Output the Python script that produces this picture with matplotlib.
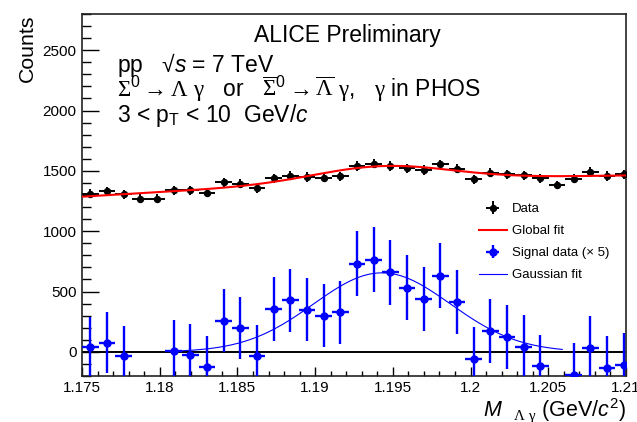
import numpy as np
import matplotlib
matplotlib.use("Agg")
import matplotlib.pyplot as plt
from matplotlib.ticker import FixedLocator, MultipleLocator, FixedFormatter

plt.rcParams['font.family'] = ['Liberation Sans', 'DejaVu Sans']
plt.rcParams['mathtext.fontset'] = 'custom'
plt.rcParams['mathtext.rm'] = 'Liberation Serif'
plt.rcParams['mathtext.it'] = 'Liberation Sans:italic'
plt.rcParams['mathtext.sf'] = 'Liberation Sans'

# ---------------- data ----------------
bin_start = 1.175
bin_width = 0.001072
n_bins = 33

data_counts = [1311, 1333, 1305, 1270, 1270, 1339, 1339, 1319, 1405, 1394,
               1355, 1440, 1460, 1449, 1443, 1454, 1541, 1559, 1540, 1520,
               1507, 1553, 1518, 1429, 1485, 1471, 1465, 1438, 1383, 1435,
               1490, 1457, 1471]
data_err = [36, 37, 36, 36, 36, 37, 37, 36, 37, 37,
            37, 38, 38, 38, 38, 38, 39, 39, 39, 39,
            39, 39, 39, 38, 39, 38, 38, 38, 37, 38,
            39, 38, 38]

signal_x5 = [39, 77, -36, np.nan, np.nan, 10, -29, -126, 258, 198,
             -36, 356, 427, 350, 300, 328, 730, 765, 660, 532,
             440, 632, 415, -58, 176, 123, 44, -120, np.nan, -189,
             32, -134, -106]
signal_err = [254, 255, 254, 252, 252, 256, 256, 255, 260, 259,
              257, 262, 263, 263, 262, 263, 268, 269, 268, 267,
              266, 269, 267, 262, 265, 264, 264, 262, 259, 262,
              265, 263, 264]

# Gaussian fit of the signal (x5)
gaus_amp = 655.0
gaus_mean = 1.1943
gaus_sigma = 0.0044
gaus_range = [1.1806, 1.2059]

# Global fit: gaussian + quadratic background
global_gaus_amp = 131.0
bkg_ref = 1.1925
bkg_coef = [1400.0, 5029.0, -84898.0]

x_ticks = [1.175, 1.18, 1.185, 1.19, 1.195, 1.2, 1.205, 1.21]
x_tick_labels = ["1.175", "1.18", "1.185", "1.19", "1.195", "1.2", "1.205", "1.21"]
y_ticks = [0, 500, 1000, 1500, 2000, 2500]
y_tick_labels = ["0", "500", "1000", "1500", "2000", "2500"]

# ---------------- plot ----------------
W, H = 637, 422
fig = plt.figure(figsize=(W / 100, H / 100), dpi=100)
ax = fig.add_axes([82 / W, 1 - 376 / H, (626 - 82) / W, (376 - 14) / H])

mass = bin_start + bin_width * (np.arange(n_bins) + 0.5)
half = bin_width / 2

ax.axhline(0, color='black', lw=1.4, zorder=1)

h_data = ax.errorbar(mass, data_counts, yerr=data_err, xerr=half, fmt='o',
                     color='black', ms=4.3, elinewidth=1.4, capsize=0, zorder=3)
h_sig = ax.errorbar(mass, signal_x5, yerr=signal_err, xerr=half, fmt='o',
                    color='#0000ff', ms=5.0, elinewidth=1.7, capsize=0, zorder=3)

xf = np.linspace(1.175, 1.21, 400)
t = xf - bkg_ref
glob = (bkg_coef[0] + bkg_coef[1] * t + bkg_coef[2] * t ** 2
        + global_gaus_amp * np.exp(-0.5 * ((xf - gaus_mean) / gaus_sigma) ** 2))
h_glob, = ax.plot(xf, glob, color='#ff0000', lw=1.5, zorder=4)

xg = np.linspace(gaus_range[0], gaus_range[1], 300)
gg = gaus_amp * np.exp(-0.5 * ((xg - gaus_mean) / gaus_sigma) ** 2)
h_gaus, = ax.plot(xg, gg, color='#0000ff', lw=0.8, zorder=4)

ax.set_xlim(1.175, 1.21)
ax.set_ylim(-200, 2800)

ax.xaxis.set_major_locator(FixedLocator(x_ticks))
ax.xaxis.set_major_formatter(FixedFormatter(x_tick_labels))
ax.xaxis.set_minor_locator(MultipleLocator(0.001))
ax.yaxis.set_major_locator(FixedLocator(y_ticks))
ax.yaxis.set_major_formatter(FixedFormatter(y_tick_labels))
ax.yaxis.set_minor_locator(MultipleLocator(100))

ax.tick_params(axis='y', which='major', direction='in', length=12, width=1.0,
               left=True, right=False, labelsize=11, pad=4)
ax.tick_params(axis='y', which='minor', direction='in', length=6.5, width=1.0,
               left=True, right=False)
ax.tick_params(axis='x', which='major', direction='in', length=6.7, width=1.0,
               bottom=True, top=False, labelsize=11, pad=3.5)
ax.tick_params(axis='x', which='minor', direction='in', length=3.6, width=1.0,
               bottom=True, top=False)
for s in ax.spines.values():
    s.set_linewidth(1.2)
    s.set_color('#222222')

leg = ax.legend([h_data, h_glob, h_sig, h_gaus],
                ["Data", "Global fit", "Signal data (\u00d7 5)", "Gaussian fit"],
                loc='upper left', bbox_to_anchor=((479 - 82) / 544, (376 - 203) / 362),
                frameon=False, fontsize=9.5, handlelength=2.1, handletextpad=0.4,
                labelspacing=0.74, borderpad=0, borderaxespad=0)

fs = 16.5
fig.text(347.5 / W, 1 - 41.7 / H, "ALICE Preliminary", ha='center', va='baseline', fontsize=fs)
fig.text(117 / W, 1 - 71.7 / H, "pp   \u221a$s$ = 7 TeV", ha='left', va='baseline', fontsize=fs)
fig.text(117 / W, 1 - 96.5 / H,
         r"$\Sigma^{\mathsf{0}} \rightarrow \Lambda\ \mathrm{\gamma}$   or   "
         r"$\overline{\Sigma}^{\mathsf{0}} \rightarrow \overline{\Lambda}\ \mathrm{\gamma}$,   "
         r"$\mathrm{\gamma}$ in PHOS",
         ha='left', va='baseline', fontsize=fs)
fig.text(117 / W, 1 - 121.7 / H, r"3 < p$_{\mathsf{T}}$ < 10  GeV/$c$",
         ha='left', va='baseline', fontsize=fs)

fig.text(27 / W, 1 - 15 / H, "Counts", rotation=90, ha='center', va='top', fontsize=15.3)
fig.text(626 / W, 1 - 416.5 / H, r"$M_{\ \ \ \Lambda\ \mathrm{\gamma}}$ (GeV/$c^{\mathsf{2}}$)",
         ha='right', va='baseline', fontsize=15.5)

fig.savefig("out.png", dpi=100)
